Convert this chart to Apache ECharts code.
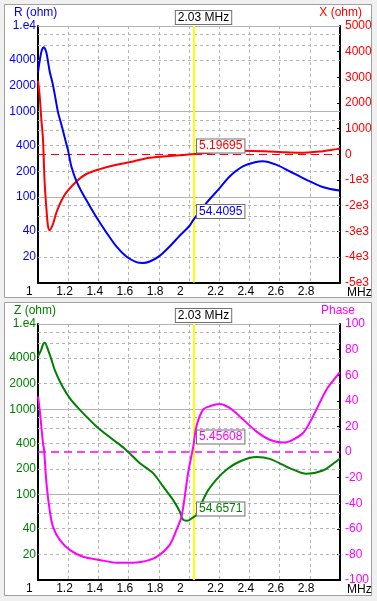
<!DOCTYPE html>
<html><head><meta charset="utf-8">
<script src="https://cdn.jsdelivr.net/npm/echarts@6/dist/echarts.min.js"></script>
<style>html,body{margin:0;padding:0;background:#f0f0f0;}#c{width:377px;height:601px;}</style>
</head><body><div id="c"></div>
<script>
// ---------- data ----------
const freqR = [1.000,1.009,1.018,1.028,1.038,1.047,1.056,1.066,1.077,1.089,1.100,1.117,1.132,1.160,1.187,1.198,1.221,1.255,1.287,1.325,1.387,1.453,1.519,1.585,1.651,1.695,1.740,1.806,1.872,1.938,2.004,2.030,2.115,2.203,2.269,2.357,2.445,2.489,2.577,2.665,2.775,2.885,2.995];
const rOhm  = [2850,3700,4600,5350,5650,5400,4850,3870,2960,2430,2010,1380,990,650,421,358,228,152,117,89,58,38.5,26.4,20.1,17.3,16.9,17.6,20.5,26.4,35.2,46.1,54.4095,85,127,174,228,257,262,239,200,160,131,119];

const freqX = [1.000,1.011,1.022,1.033,1.044,1.056,1.066,1.077,1.099,1.122,1.155,1.188,1.254,1.320,1.409,1.519,1.630,1.740,1.894,2.030,2.200,2.356,2.500,2.620,2.733,2.865,2.977,3.000];
const xOhm  = [2870,2280,1370,590,-1100,-2140,-2790,-2960,-2720,-2270,-1815,-1490,-1060,-770,-580,-410,-280,-140,-60,5.19695,100,140,120,80,55,105,200,220];

const freqZ = [1.000,1.022,1.033,1.044,1.066,1.089,1.110,1.155,1.210,1.276,1.387,1.497,1.574,1.673,1.762,1.828,1.894,1.938,1.960,1.990,2.030,2.049,2.115,2.181,2.248,2.336,2.447,2.535,2.667,2.777,2.887,2.975,3.000];
const zOhm  = [4190,5020,5750,6020,5020,3830,2925,1950,1350,992,631,441,346,235,179,125,87,64,51,49.5,54.6571,58,104,150,196,245,276,263,205,176,192,245,265];

const freqP  = [1.000,1.011,1.022,1.033,1.040,1.056,1.077,1.099,1.144,1.210,1.298,1.409,1.519,1.629,1.740,1.806,1.872,1.917,1.950,1.972,1.994,2.030,2.049,2.093,2.137,2.203,2.269,2.336,2.446,2.534,2.622,2.667,2.755,2.821,2.910,2.977,2.998];
const phaseDeg = [43.5,33.1,20,7,1.8,-24.3,-45.2,-58.3,-68.7,-76.5,-81.8,-84.3,-86.5,-86.5,-84.3,-80.4,-72.6,-60.9,-50.5,-34.8,-16.5,5.45608,20,33.1,35.7,37.5,34.4,27.8,16.1,9.6,7.5,8.3,14.8,27.8,48.7,59.1,62.3];

const cursorMHz = 2.03;
const cursorR = 54.4095, cursorX = 5.19695, cursorZ = 54.6571, cursorPhase = 5.45608;

const logLabelValues = [10,20,40,100,200,400,1000,2000,4000,10000];
const logGridValues  = [10,20,40,60,80,100,200,400,600,800,1000,2000,4000,6000,8000,10000];
const xRange = [1, 3], xStep = 0.2;
const xRangeOhm = [-5000, 5000], xOhmStep = 1000;
const phaseRange = [-100, 100], phaseStep = 20;

// ---------- styles ----------
const FF = "'Liberation Sans Narrow','Arial Narrow','Liberation Sans',Arial,sans-serif";
const FS = 12;
const BLUE = '#0000ff', RED = '#ff0000', GREEN = '#008000', MAG = '#ff00ff';
const GRIDC = '#b4b4b4';

function pairs(xs, ys) { return xs.map((x, i) => [x, ys[i]]); }
function fmtLog(v) { return v === 10000 ? '1.e4' : String(v); }
function fmtX(v) { return Math.abs(v) >= 1000 && v < 0 ? (v / 1000) + 'e3' : String(v); }

function gridLines(labelColor) {
  return logGridValues.map(v => {
    const lg = Math.log10(v);
    const major = Math.abs(lg - Math.round(lg)) < 1e-9;
    return {
      yAxis: v,
      lineStyle: { color: GRIDC, width: 1, type: major ? 'solid' : [3, 3], opacity: v === 10 ? 0 : 1 },
      label: { show: logLabelValues.includes(v), position: 'start', distance: 2,
               formatter: fmtLog(v), color: labelColor, fontFamily: FF, fontSize: FS }
    };
  });
}

function xAxisDef(gi) {
  return {
    type: 'value', gridIndex: gi, min: xRange[0], max: xRange[1], interval: xStep,
    name: 'MHz', nameLocation: 'end', nameGap: 7, nameMoveOverlap: false,
    nameTextStyle: { color: '#000', fontFamily: FF, fontSize: FS, align: 'left', verticalAlign: 'top', padding: [4, 0, 0, 0] },
    axisLine: { show: true, onZero: false, lineStyle: { color: '#000', width: 2 } },
    axisTick: { show: false },
    splitLine: { show: true, lineStyle: { color: GRIDC, width: 1, type: [3, 3] } },
    axisLabel: {
      margin: 3, align: 'center', showMaxLabel: false,
      formatter: v => '{a|' + (Math.round(v * 10) / 10) + '}',
      rich: { a: { width: 24, align: 'left', color: '#000', fontFamily: FF, fontSize: FS } }
    }
  };
}
function logAxis(gi) {
  return {
    type: 'log', logBase: 10, gridIndex: gi, min: 10, max: 10000, position: 'left',
    axisLine: { show: true, onZero: false, lineStyle: { color: '#000', width: 2 } },
    axisTick: { show: false }, axisLabel: { show: false }, splitLine: { show: false }
  };
}
function rightAxis(gi, range, step, color, fmt) {
  return {
    type: 'value', gridIndex: gi, min: range[0], max: range[1], interval: step, position: 'right',
    axisLine: { show: true, onZero: false, lineStyle: { color: '#000', width: 2 } },
    axisTick: { show: true, inside: true, length: 3, lineStyle: { color: '#000' } },
    splitLine: { show: false },
    axisLabel: { margin: 5, color: color, fontFamily: FF, fontSize: FS, formatter: fmt }
  };
}
function cursorLine(xi, yi) {
  return {
    type: 'line', xAxisIndex: xi, yAxisIndex: yi, data: [], z: 2, silent: true,
    markLine: {
      silent: true, symbol: ['none', 'none'], z: 2, animation: false,
      data: [{ xAxis: cursorMHz }],
      lineStyle: { color: '#ffff00', width: 2, type: 'solid' },
      label: { show: true, position: 'end', distance: 2,
               formatter: '{s|}{b|' + cursorMHz.toFixed(2) + ' MHz}',
               rich: {
                 s: { width: 20 },
                 b: { color: '#000', backgroundColor: '#fff', borderColor: '#707070', borderWidth: 1,
                      padding: [1, 2, 0, 2], fontFamily: FF, fontSize: FS }
               } }
    }
  };
}
function gridSeries(xi, yi, color) {
  return {
    type: 'line', xAxisIndex: xi, yAxisIndex: yi, data: [], z: 1, silent: true,
    markLine: { silent: true, symbol: ['none', 'none'], z: 1, animation: false, data: gridLines(color) }
  };
}
function valueBox(x, y, color) {
  return {
    symbol: 'rect', symbolSize: 1, z: 6, silent: true, animation: false,
    itemStyle: { color: 'rgba(0,0,0,0)' },
    data: [{ coord: [x, y] }],
    label: { show: true, position: 'right', distance: 3, offset: [0, -8],
             formatter: String(y), color: color, backgroundColor: '#fff',
             borderColor: '#707070', borderWidth: 1, padding: [1, 2, 0, 2],
             fontFamily: FF, fontSize: FS }
  };
}
function zeroLine(color, w) {
  return { silent: true, symbol: ['none', 'none'], z: 1, animation: false,
           data: [{ yAxis: 0 }], label: { show: false },
           lineStyle: { color: color, width: w, type: [8, 5] } };
}
function curve(xi, yi, data, color, extra) {
  return Object.assign({
    type: 'line', xAxisIndex: xi, yAxisIndex: yi, data: data, z: 3,
    showSymbol: false, symbol: 'none', smooth: 0.3, clip: true,
    lineStyle: { color: color, width: 2 }, itemStyle: { color: color }
  }, extra || {});
}

const chart = echarts.init(document.getElementById('c'), null, { renderer: 'canvas' });
chart.setOption({
  animation: false,
  backgroundColor: '#f0f0f0',
  graphic: [
    { type: 'rect', z: -10, silent: true, shape: { x: 4.5, y: 4.5, width: 367, height: 293 },
      style: { fill: '#fff', stroke: '#a0a0a0', lineWidth: 1 } },
    { type: 'rect', z: -10, silent: true, shape: { x: 4.5, y: 302.5, width: 367, height: 293 },
      style: { fill: '#fff', stroke: '#a0a0a0', lineWidth: 1 } },
    { type: 'text', left: 14, top: 7, silent: true, style: { text: 'R (ohm)', fill: BLUE, font: FS + 'px ' + FF } },
    { type: 'text', right: 15, top: 7, silent: true, style: { text: 'X (ohm)', fill: RED, font: FS + 'px ' + FF } },
    { type: 'text', left: 14, top: 305, silent: true, style: { text: 'Z (ohm)', fill: GREEN, font: FS + 'px ' + FF } },
    { type: 'text', right: 22, top: 305, silent: true, style: { text: 'Phase', fill: MAG, font: FS + 'px ' + FF } }
  ],
  grid: [
    { left: 38, right: 37, top: 26, height: 256.5, containLabel: false, outerBoundsMode: 'none' },
    { left: 38, right: 37, top: 324, height: 256, containLabel: false, outerBoundsMode: 'none' }
  ],
  xAxis: [xAxisDef(0), xAxisDef(1)],
  yAxis: [
    logAxis(0),
    rightAxis(0, xRangeOhm, xOhmStep, RED, fmtX),
    logAxis(1),
    rightAxis(1, phaseRange, phaseStep, MAG, v => String(v))
  ],
  series: [
    gridSeries(0, 0, BLUE),
    cursorLine(0, 0),
    curve(0, 1, pairs(freqX, xOhm), RED, { markLine: zeroLine(RED, 1), markPoint: valueBox(cursorMHz, cursorX, RED) }),
    curve(0, 0, pairs(freqR, rOhm), BLUE, { markPoint: valueBox(cursorMHz, cursorR, BLUE) }),

    gridSeries(1, 2, GREEN),
    cursorLine(1, 2),
    curve(1, 2, pairs(freqZ, zOhm), GREEN, { markPoint: valueBox(cursorMHz, cursorZ, GREEN) }),
    curve(1, 3, pairs(freqP, phaseDeg), MAG, { markLine: zeroLine(MAG, 1.5), markPoint: valueBox(cursorMHz, cursorPhase, MAG) })
  ]
});
</script></body></html>
